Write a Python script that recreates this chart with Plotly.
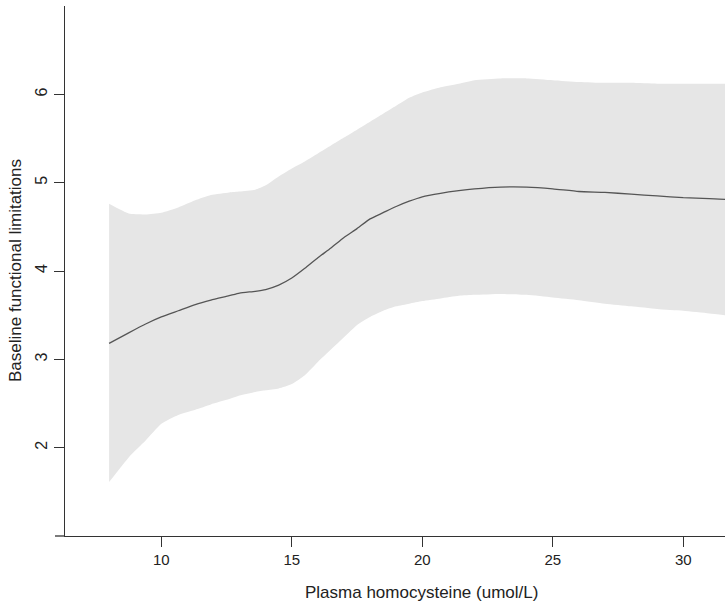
import plotly.graph_objects as go

# Data
x_vals = [8, 8.75, 9.4, 10, 10.65, 11.3, 11.9, 12.6, 13, 13.6, 14, 14.5, 15, 15.5, 16, 16.5,
          17, 17.5, 18, 18.5, 19, 19.5, 20, 20.7, 21.4, 22, 23, 24, 25, 26, 27, 28, 29, 30, 31, 31.6]
mean_vals = [3.18, 3.30, 3.40, 3.48, 3.55, 3.62, 3.67, 3.72, 3.75, 3.77, 3.79, 3.84, 3.92, 4.03,
             4.15, 4.26, 4.38, 4.48, 4.59, 4.66, 4.73, 4.79, 4.84, 4.88, 4.91, 4.93, 4.95, 4.95,
             4.93, 4.90, 4.89, 4.87, 4.85, 4.83, 4.82, 4.81]
upper_vals = [4.76, 4.65, 4.64, 4.66, 4.72, 4.80, 4.86, 4.89, 4.90, 4.92, 4.97, 5.07, 5.16, 5.24,
              5.33, 5.42, 5.51, 5.60, 5.69, 5.78, 5.87, 5.96, 6.02, 6.08, 6.12, 6.16, 6.18, 6.18,
              6.16, 6.14, 6.13, 6.13, 6.12, 6.12, 6.12, 6.12]
lower_vals = [1.61, 1.89, 2.08, 2.27, 2.37, 2.43, 2.49, 2.55, 2.59, 2.63, 2.65, 2.67, 2.72, 2.82,
              2.97, 3.11, 3.25, 3.39, 3.48, 3.55, 3.60, 3.63, 3.66, 3.69, 3.72, 3.73, 3.74, 3.73,
              3.70, 3.67, 3.63, 3.60, 3.57, 3.55, 3.52, 3.50]

x_ticks = [10, 15, 20, 25, 30]
y_ticks = [2, 3, 4, 5, 6]
x_title = "Plasma homocysteine (umol/L)"
y_title = "Baseline functional limitations"

FONT = "Liberation Sans, Arial, sans-serif"
AX = "#333333"
TXT = "#222222"

fig = go.Figure()
fig.add_trace(go.Scatter(x=x_vals, y=lower_vals, mode="lines",
                         line=dict(width=0, shape="spline", smoothing=0.5),
                         hoverinfo="skip", showlegend=False))
fig.add_trace(go.Scatter(x=x_vals, y=upper_vals, mode="lines", fill="tonexty",
                         fillcolor="#e6e6e6",
                         line=dict(width=0, shape="spline", smoothing=0.5),
                         hoverinfo="skip", showlegend=False))
fig.add_trace(go.Scatter(x=x_vals, y=mean_vals, mode="lines",
                         line=dict(color="#555555", width=1.3, shape="spline", smoothing=0.5),
                         showlegend=False))

fig.update_layout(
    width=725, height=607,
    margin=dict(l=65, r=0, t=6, b=71),
    paper_bgcolor="white", plot_bgcolor="white",
    font=dict(family=FONT, size=15, color=TXT),
    xaxis=dict(range=[6.31, 31.6], tickvals=x_ticks, ticktext=[str(v) for v in x_ticks],
               showgrid=False, zeroline=False, showline=True, linecolor=AX, linewidth=1.3,
               ticks="outside", ticklen=10, tickcolor=AX, tickwidth=1.3,
               tickfont=dict(family=FONT, size=15, color=TXT)),
    yaxis=dict(range=[1, 7], tickvals=y_ticks, ticktext=[str(v) for v in y_ticks],
               showgrid=False, zeroline=False, showline=True, linecolor=AX, linewidth=1.3,
               ticks="outside", ticklen=10, tickcolor=AX, tickwidth=1.3, tickangle=-90,
               tickfont=dict(family=FONT, size=16, color=TXT)),
    shapes=[dict(type="line", xref="paper", yref="paper", x0=-10/660, x1=0, y0=0, y1=0,
                 line=dict(color=AX, width=1.3))],
    annotations=[
        dict(text=x_title, xref="paper", yref="paper", x=(421.5 - 65) / 660, y=(536 - 592) / 530,
             xanchor="center", yanchor="middle", showarrow=False,
             font=dict(family=FONT, size=17, color=TXT)),
        dict(text=y_title, xref="paper", yref="paper", x=(15 - 65) / 660, y=0.5,
             xanchor="center", yanchor="middle", showarrow=False, textangle=-90,
             font=dict(family=FONT, size=17, color=TXT)),
    ],
)

fig.write_html("out.html")
